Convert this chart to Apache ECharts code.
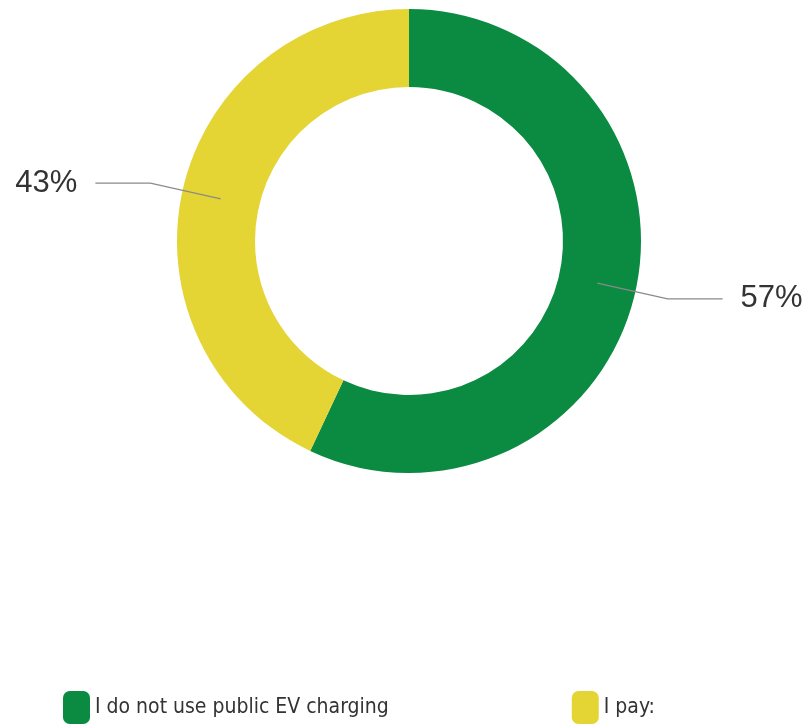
<!DOCTYPE html>
<html>
<head>
<meta charset="utf-8">
<script src="https://cdn.jsdelivr.net/npm/echarts@6/dist/echarts.min.js"></script>
<style>
html,body{margin:0;padding:0;background:#fff;}
#chart{width:807px;height:728px;}
</style>
</head>
<body>
<div id="chart"></div>
<script>
const categories = ['I do not use public EV charging', 'I pay:'];
const values = [57, 43];
const colors = ['#0B8A41', '#E4D434'];

const chart = echarts.init(document.getElementById('chart'), null, {renderer: 'canvas'});

const mainData = categories.map((c, i) => ({name: c, value: values[i], itemStyle: {color: colors[i]}}));
const labelData = categories.map((c, i) => ({name: c, value: values[i]}));

chart.setOption({
  animation: false,
  backgroundColor: '#ffffff',
  legend: {
    data: categories,
    orient: 'horizontal',
    left: 58,
    top: 686,
    itemWidth: 27,
    itemHeight: 33,
    itemGap: 183,
    icon: 'roundRect',
    textStyle: {
      fontFamily: "'Liberation Sans Narrow', 'DejaVu Sans Condensed', 'Liberation Sans', sans-serif",
      fontSize: 21,
      color: '#333333'
    }
  },
  series: [
    {
      type: 'pie',
      center: [409, 241],
      radius: [154, 232],
      startAngle: 90,
      clockwise: true,
      silent: true,
      label: {show: false},
      labelLine: {show: false},
      data: mainData
    },
    {
      type: 'pie',
      center: [409, 241],
      radius: [0, 193],
      startAngle: 90,
      clockwise: true,
      silent: true,
      z: 5,
      itemStyle: {color: 'transparent'},
      label: {
        show: true,
        position: 'outside',
        formatter: '{c}%',
        fontFamily: "'Liberation Sans', sans-serif",
        fontSize: 31,
        color: '#333333',
        distanceToLabelLine: 18,
        overflow: 'none',
        width: 120
      },
      labelLine: {
        show: true,
        length: 72,
        length2: 55,
        smooth: false,
        lineStyle: {color: '#8a8a8a', width: 1.2}
      },
      data: labelData
    }
  ]
});
</script>
</body>
</html>
